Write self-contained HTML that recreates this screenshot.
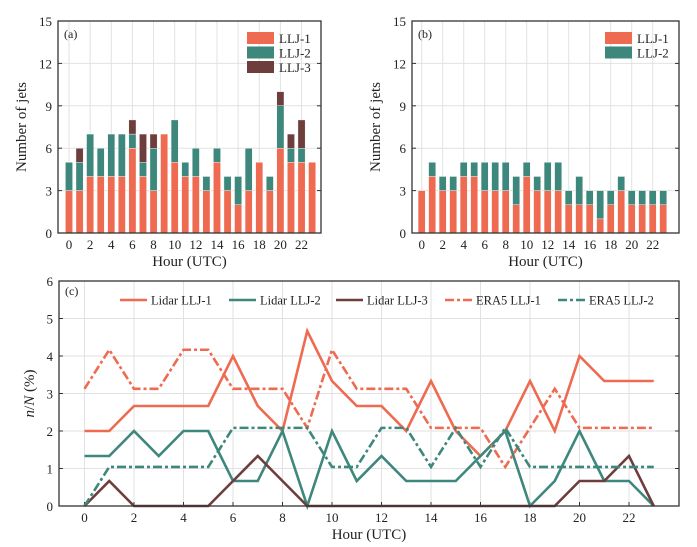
<!DOCTYPE html>
<html><head><meta charset="utf-8"><style>
body{margin:0;background:#fff}
svg{display:block;font-family:"Liberation Serif",serif}
</style></head><body>
<svg id="chart" width="697" height="547"></svg>
<script>
const hours=[0,1,2,3,4,5,6,7,8,9,10,11,12,13,14,15,16,17,18,19,20,21,22,23];
const lidar1=[3,3,4,4,4,4,6,4,3,7,5,4,4,3,5,3,2,3,5,3,6,5,5,5];
const lidar2=[2,2,3,2,3,3,1,1,3,0,3,1,2,1,1,1,2,3,0,1,3,1,1,0];
const lidar3=[0,1,0,0,0,0,1,2,1,0,0,0,0,0,0,0,0,0,0,0,1,1,2,0];
const era1=[3,4,3,3,4,4,3,3,3,2,4,3,3,3,2,2,2,1,2,3,2,2,2,2];
const era2=[0,1,1,1,1,1,2,2,2,2,1,1,2,2,1,2,1,2,1,1,1,1,1,1];
const lidarTotal=150, eraTotal=96;
const countTicks=[0,3,6,9,12,15];
const pctTicks=[0,1,2,3,4,5,6];
const hourTicks=[0,2,4,6,8,10,12,14,16,18,20,22];
const C1='#ee6a50',C2='#3e877c',C3='#6e3e3c';
const NS='http://www.w3.org/2000/svg';
const svg=document.getElementById('chart');
function el(tag,attrs,parent){const e=document.createElementNS(NS,tag);for(const k in attrs)e.setAttribute(k,attrs[k]);(parent||svg).appendChild(e);return e;}
function txt(s,attrs,parent){const e=el('text',attrs,parent);e.textContent=s;return e;}

function frame(g,L,R,T,B,sx,sy,yt,ymax){
  hourTicks.forEach(h=>{const x=sx(h);
    const l=el('line',{x1:x,x2:x,y1:T,y2:B,stroke:'#e2e2e2','stroke-width':1},g);
    
    const t=txt(h,{x:x,y:B+16,'font-size':13,'text-anchor':'middle',fill:'#222'},g);
    
    el('line',{x1:x,x2:x,y1:B,y2:B-4,stroke:'#333'},g);});
  yt.forEach(v=>{const y=sy(v);
    const l=el('line',{x1:L,x2:R,y1:y,y2:y,stroke:'#e2e2e2','stroke-width':1},g);
    
    const t=txt(v,{x:L-6,y:y+5,'font-size':13,'text-anchor':'end',fill:'#222'},g);
    
    el('line',{x1:L,x2:L+4,y1:y,y2:y,stroke:'#333'},g);el('line',{x1:R,x2:R-4,y1:y,y2:y,stroke:'#333'},g);});
}
function border(g,L,R,T,B){const r=el('rect',{x:L,y:T,width:R-L,height:B-T,fill:'none',stroke:'#333','stroke-width':1.3},g);
  }

function barPanel(name,L,R,T,B,x0,dx,series,colors,labels,tag){
  const g=el('g',{});
  const sx=h=>x0+h*dx, sy=v=>B-(v/15)*(B-T);
  frame(g,L,R,T,B,sx,sy,countTicks,15);
  hours.forEach((h,i)=>{let base=0;series.forEach((s,k)=>{const v=s[i];if(v>0){
    const r=el('rect',{x:sx(h)-3.6,y:sy(base+v),width:7.2,height:sy(base)-sy(base+v),fill:colors[k],stroke:'#fff','stroke-width':0.4},g);
    }base+=v;});});
  border(g,L,R,T,B);
  const t=txt(tag,{x:L+6,y:T+17,'font-size':12,fill:'#222'},g);
  labels.forEach((lb,k)=>{const y=T+11+k*14.5;
    const r=el('rect',{x:R-74,y:y,width:27,height:12,fill:colors[k]},g);
    const lt=txt(lb,{x:R-42,y:y+11,'font-size':13,fill:'#222'},g);});
  const yl=txt('Number of jets',{x:0,y:0,'font-size':15,'text-anchor':'middle',fill:'#222',transform:`translate(${L-32},${(T+B)/2}) rotate(-90)`},g);
  
  const xl=txt('Hour (UTC)',{x:(L+R)/2,y:B+33,'font-size':15,'text-anchor':'middle',fill:'#222'},g);
  
}
barPanel('panel-a-lidar',58,321,21,233,69,10.57,[lidar1,lidar2,lidar3],[C1,C2,C3],['LLJ-1','LLJ-2','LLJ-3'],'(a)');
barPanel('panel-b-era5',412,679,21,233,421.7,10.5,[era1,era2],[C1,C2],['LLJ-1','LLJ-2'],'(b)');

// panel c
(function(){
  const L=59,R=679,T=281,B=506,x0=84.5,dx=24.75;
  const g=el('g',{});
  const sx=h=>x0+h*dx, sy=v=>B-(v/6)*(B-T);
  frame(g,L,R,T,B,sx,sy,pctTicks,6);
  const lines=[[lidar1,lidarTotal,C1,null,'lidar-llj-1'],[lidar2,lidarTotal,C2,null,'lidar-llj-2'],[lidar3,lidarTotal,C3,null,'lidar-llj-3'],
    [era1,eraTotal,C1,'9,3,3,3','era5-llj-1'],[era2,eraTotal,C2,'9,3,3,3','era5-llj-2']];
  lines.forEach(([s,N,c,d,n])=>{const pts=hours.map((h,i)=>sx(h)+','+sy(s[i]/N*100)).join(' ');
    const a={points:pts,fill:'none',stroke:c,'stroke-width':2.6,'stroke-linejoin':'miter'};if(d)a['stroke-dasharray']=d;
    const p=el('polyline',a,g);});
  border(g,L,R,T,B);
  const t=txt('(c)',{x:L+6,y:T+14,'font-size':12,fill:'#222'},g);
  const leg=[['Lidar LLJ-1',C1,null,120],['Lidar LLJ-2',C2,null,229],['Lidar LLJ-3',C3,null,336],['ERA5 LLJ-1',C1,'9,3,3,3',445],['ERA5 LLJ-2',C2,'9,3,3,3',558]];
  leg.forEach(([lb,c,d,x])=>{const a={x1:x,x2:x+27,y1:300,y2:300,stroke:c,'stroke-width':2.6};if(d)a['stroke-dasharray']=d;
    const l=el('line',a,g);
    const lt=txt(lb,{x:x+31,y:304.5,'font-size':12.5,fill:'#222'},g);});
  const yl=el('text',{x:0,y:0,'font-size':15,'text-anchor':'middle',fill:'#222',transform:`translate(${L-25},${(T+B)/2}) rotate(-90)`},g);
  yl.innerHTML='<tspan font-style="italic">n</tspan>/<tspan font-style="italic">N</tspan> (%)';
  
  const xl=txt('Hour (UTC)',{x:(L+R)/2,y:B+33,'font-size':15,'text-anchor':'middle',fill:'#222'},g);
  
})();
</script>
</body></html>
